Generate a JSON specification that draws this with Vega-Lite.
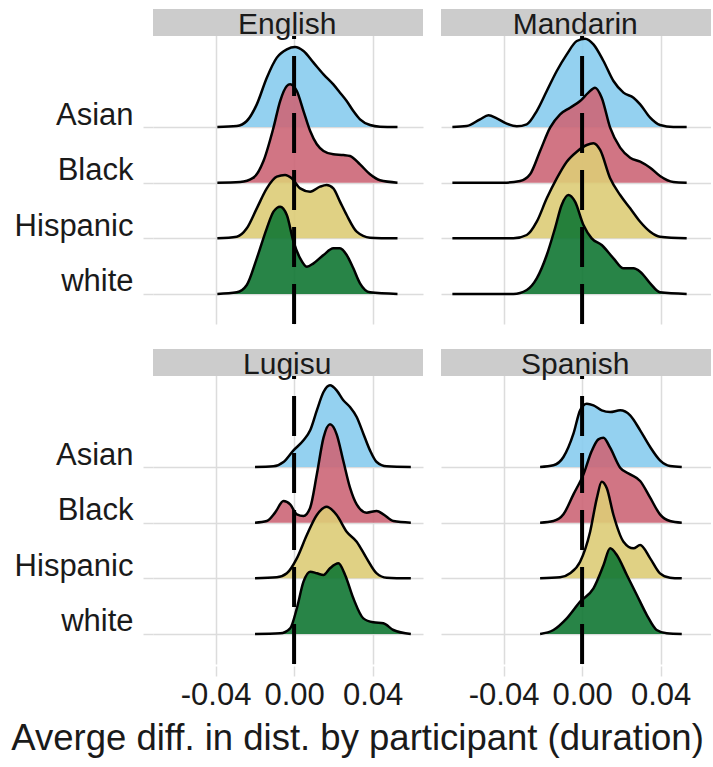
{
"$schema":"https://vega.github.io/schema/vega-lite/v6.json",
"padding":{"left":11,"top":8,"right":0,"bottom":0},
"autosize":{"type":"pad"},
"background":"white",
"title":{"text":"Averge diff. in dist. by participant (duration)","orient":"bottom","anchor":"middle","frame":"bounds","fontSize":36.5,"fontWeight":"normal","font":"Liberation Sans","color":"#1a1a1a","offset":11,"dx":-5},
"data":{"values":[
{"l":"English","r":"Asian","x":-0.0391,"d":0},{"l":"English","r":"Asian","x":-0.0292,"d":0.018},{"l":"English","r":"Asian","x":-0.0241,"d":0.108},{"l":"English","r":"Asian","x":-0.019,"d":0.407},{"l":"English","r":"Asian","x":-0.0139,"d":0.886},{"l":"English","r":"Asian","x":-0.0088,"d":1.246},{"l":"English","r":"Asian","x":-0.0037,"d":1.395},{"l":"English","r":"Asian","x":0.0005,"d":1.437},{"l":"English","r":"Asian","x":0.0048,"d":1.365},{"l":"English","r":"Asian","x":0.0099,"d":1.156},{"l":"English","r":"Asian","x":0.015,"d":0.946},{"l":"English","r":"Asian","x":0.02,"d":0.766},{"l":"English","r":"Asian","x":0.0234,"d":0.617},{"l":"English","r":"Asian","x":0.0268,"d":0.467},{"l":"English","r":"Asian","x":0.0302,"d":0.287},{"l":"English","r":"Asian","x":0.0336,"d":0.138},{"l":"English","r":"Asian","x":0.0387,"d":0.036},{"l":"English","r":"Asian","x":0.0438,"d":0.006},{"l":"English","r":"Asian","x":0.0527,"d":0},
{"l":"English","r":"Black","x":-0.0391,"d":0},{"l":"English","r":"Black","x":-0.0275,"d":0.012},{"l":"English","r":"Black","x":-0.0207,"d":0.09},{"l":"English","r":"Black","x":-0.0156,"d":0.389},{"l":"English","r":"Black","x":-0.0105,"d":0.988},{"l":"English","r":"Black","x":-0.0071,"d":1.467},{"l":"English","r":"Black","x":-0.0037,"d":1.737},{"l":"English","r":"Black","x":-0.002,"d":1.77},{"l":"English","r":"Black","x":0.0014,"d":1.647},{"l":"English","r":"Black","x":0.0048,"d":1.287},{"l":"English","r":"Black","x":0.0082,"d":0.928},{"l":"English","r":"Black","x":0.0116,"d":0.689},{"l":"English","r":"Black","x":0.015,"d":0.569},{"l":"English","r":"Black","x":0.02,"d":0.509},{"l":"English","r":"Black","x":0.0251,"d":0.497},{"l":"English","r":"Black","x":0.0285,"d":0.479},{"l":"English","r":"Black","x":0.0336,"d":0.329},{"l":"English","r":"Black","x":0.0387,"d":0.15},{"l":"English","r":"Black","x":0.0438,"d":0.042},{"l":"English","r":"Black","x":0.0527,"d":0},
{"l":"English","r":"Hispanic","x":-0.0391,"d":0},{"l":"English","r":"Hispanic","x":-0.0292,"d":0.03},{"l":"English","r":"Hispanic","x":-0.0241,"d":0.18},{"l":"English","r":"Hispanic","x":-0.019,"d":0.539},{"l":"English","r":"Hispanic","x":-0.0139,"d":0.898},{"l":"English","r":"Hispanic","x":-0.0088,"d":1.108},{"l":"English","r":"Hispanic","x":-0.0046,"d":1.138},{"l":"English","r":"Hispanic","x":-0.0012,"d":1.078},{"l":"English","r":"Hispanic","x":0.0031,"d":0.898},{"l":"English","r":"Hispanic","x":0.0082,"d":0.838},{"l":"English","r":"Hispanic","x":0.0132,"d":0.928},{"l":"English","r":"Hispanic","x":0.0166,"d":0.958},{"l":"English","r":"Hispanic","x":0.02,"d":0.898},{"l":"English","r":"Hispanic","x":0.0234,"d":0.659},{"l":"English","r":"Hispanic","x":0.0268,"d":0.419},{"l":"English","r":"Hispanic","x":0.0319,"d":0.12},{"l":"English","r":"Hispanic","x":0.0387,"d":0.012},{"l":"English","r":"Hispanic","x":0.0527,"d":0},
{"l":"English","r":"white","x":-0.0391,"d":0},{"l":"English","r":"white","x":-0.0292,"d":0.03},{"l":"English","r":"white","x":-0.0241,"d":0.162},{"l":"English","r":"white","x":-0.019,"d":0.641},{"l":"English","r":"white","x":-0.0139,"d":1.18},{"l":"English","r":"white","x":-0.0105,"d":1.479},{"l":"English","r":"white","x":-0.0071,"d":1.569},{"l":"English","r":"white","x":-0.0037,"d":1.419},{"l":"English","r":"white","x":-0.0003,"d":0.94},{"l":"English","r":"white","x":0.0031,"d":0.641},{"l":"English","r":"white","x":0.0065,"d":0.491},{"l":"English","r":"white","x":0.0099,"d":0.551},{"l":"English","r":"white","x":0.015,"d":0.701},{"l":"English","r":"white","x":0.02,"d":0.82},{"l":"English","r":"white","x":0.0234,"d":0.82},{"l":"English","r":"white","x":0.0268,"d":0.701},{"l":"English","r":"white","x":0.0302,"d":0.461},{"l":"English","r":"white","x":0.0336,"d":0.192},{"l":"English","r":"white","x":0.0387,"d":0.03},{"l":"English","r":"white","x":0.0527,"d":0},
{"l":"Mandarin","r":"Asian","x":-0.0661,"d":0},{"l":"Mandarin","r":"Asian","x":-0.0588,"d":0.018},{"l":"Mandarin","r":"Asian","x":-0.052,"d":0.138},{"l":"Mandarin","r":"Asian","x":-0.0477,"d":0.21},{"l":"Mandarin","r":"Asian","x":-0.0435,"d":0.156},{"l":"Mandarin","r":"Asian","x":-0.0384,"d":0.06},{"l":"Mandarin","r":"Asian","x":-0.0333,"d":0.012},{"l":"Mandarin","r":"Asian","x":-0.0282,"d":0.048},{"l":"Mandarin","r":"Asian","x":-0.0231,"d":0.287},{"l":"Mandarin","r":"Asian","x":-0.018,"d":0.647},{"l":"Mandarin","r":"Asian","x":-0.0129,"d":1.006},{"l":"Mandarin","r":"Asian","x":-0.0078,"d":1.305},{"l":"Mandarin","r":"Asian","x":-0.0027,"d":1.545},{"l":"Mandarin","r":"Asian","x":0.0015,"d":1.587},{"l":"Mandarin","r":"Asian","x":0.0058,"d":1.485},{"l":"Mandarin","r":"Asian","x":0.0109,"d":1.186},{"l":"Mandarin","r":"Asian","x":0.016,"d":0.826},{"l":"Mandarin","r":"Asian","x":0.0211,"d":0.617},{"l":"Mandarin","r":"Asian","x":0.0262,"d":0.527},{"l":"Mandarin","r":"Asian","x":0.0296,"d":0.407},{"l":"Mandarin","r":"Asian","x":0.0347,"d":0.168},{"l":"Mandarin","r":"Asian","x":0.0397,"d":0.036},{"l":"Mandarin","r":"Asian","x":0.0465,"d":0},{"l":"Mandarin","r":"Asian","x":0.0533,"d":0},
{"l":"Mandarin","r":"Black","x":-0.0661,"d":0},{"l":"Mandarin","r":"Black","x":-0.0401,"d":0},{"l":"Mandarin","r":"Black","x":-0.0316,"d":0.03},{"l":"Mandarin","r":"Black","x":-0.0265,"d":0.15},{"l":"Mandarin","r":"Black","x":-0.0214,"d":0.569},{"l":"Mandarin","r":"Black","x":-0.0163,"d":0.988},{"l":"Mandarin","r":"Black","x":-0.0112,"d":1.228},{"l":"Mandarin","r":"Black","x":-0.0061,"d":1.347},{"l":"Mandarin","r":"Black","x":-0.001,"d":1.467},{"l":"Mandarin","r":"Black","x":0.0032,"d":1.617},{"l":"Mandarin","r":"Black","x":0.0066,"d":1.707},{"l":"Mandarin","r":"Black","x":0.01,"d":1.527},{"l":"Mandarin","r":"Black","x":0.0143,"d":0.988},{"l":"Mandarin","r":"Black","x":0.0194,"d":0.629},{"l":"Mandarin","r":"Black","x":0.0245,"d":0.449},{"l":"Mandarin","r":"Black","x":0.0296,"d":0.377},{"l":"Mandarin","r":"Black","x":0.0347,"d":0.269},{"l":"Mandarin","r":"Black","x":0.0397,"d":0.12},{"l":"Mandarin","r":"Black","x":0.0465,"d":0.012},{"l":"Mandarin","r":"Black","x":0.0533,"d":0},
{"l":"Mandarin","r":"Hispanic","x":-0.0661,"d":0},{"l":"Mandarin","r":"Hispanic","x":-0.035,"d":0},{"l":"Mandarin","r":"Hispanic","x":-0.0282,"d":0.06},{"l":"Mandarin","r":"Hispanic","x":-0.0231,"d":0.299},{"l":"Mandarin","r":"Hispanic","x":-0.018,"d":0.719},{"l":"Mandarin","r":"Hispanic","x":-0.0129,"d":1.078},{"l":"Mandarin","r":"Hispanic","x":-0.0078,"d":1.377},{"l":"Mandarin","r":"Hispanic","x":-0.0027,"d":1.557},{"l":"Mandarin","r":"Hispanic","x":0.0024,"d":1.677},{"l":"Mandarin","r":"Hispanic","x":0.0058,"d":1.707},{"l":"Mandarin","r":"Hispanic","x":0.0092,"d":1.587},{"l":"Mandarin","r":"Hispanic","x":0.0143,"d":1.078},{"l":"Mandarin","r":"Hispanic","x":0.0194,"d":0.778},{"l":"Mandarin","r":"Hispanic","x":0.0245,"d":0.539},{"l":"Mandarin","r":"Hispanic","x":0.0296,"d":0.299},{"l":"Mandarin","r":"Hispanic","x":0.0347,"d":0.12},{"l":"Mandarin","r":"Hispanic","x":0.0397,"d":0.03},{"l":"Mandarin","r":"Hispanic","x":0.0533,"d":0},
{"l":"Mandarin","r":"white","x":-0.0661,"d":0},{"l":"Mandarin","r":"white","x":-0.035,"d":0},{"l":"Mandarin","r":"white","x":-0.0282,"d":0.072},{"l":"Mandarin","r":"white","x":-0.0231,"d":0.281},{"l":"Mandarin","r":"white","x":-0.018,"d":0.701},{"l":"Mandarin","r":"white","x":-0.0138,"d":1.18},{"l":"Mandarin","r":"white","x":-0.0104,"d":1.599},{"l":"Mandarin","r":"white","x":-0.007,"d":1.778},{"l":"Mandarin","r":"white","x":-0.0036,"d":1.659},{"l":"Mandarin","r":"white","x":0.0007,"d":1.24},{"l":"Mandarin","r":"white","x":0.0049,"d":1.0},{"l":"Mandarin","r":"white","x":0.01,"d":0.88},{"l":"Mandarin","r":"white","x":0.016,"d":0.641},{"l":"Mandarin","r":"white","x":0.0211,"d":0.461},{"l":"Mandarin","r":"white","x":0.0262,"d":0.461},{"l":"Mandarin","r":"white","x":0.0296,"d":0.401},{"l":"Mandarin","r":"white","x":0.0347,"d":0.192},{"l":"Mandarin","r":"white","x":0.0397,"d":0.03},{"l":"Mandarin","r":"white","x":0.0533,"d":0},
{"l":"Lugisu","r":"Asian","x":-0.0199,"d":0},{"l":"Lugisu","r":"Asian","x":-0.0105,"d":0.012},{"l":"Lugisu","r":"Asian","x":-0.0054,"d":0.09},{"l":"Lugisu","r":"Asian","x":-0.0003,"d":0.299},{"l":"Lugisu","r":"Asian","x":0.0048,"d":0.479},{"l":"Lugisu","r":"Asian","x":0.0082,"d":0.659},{"l":"Lugisu","r":"Asian","x":0.0116,"d":1.018},{"l":"Lugisu","r":"Asian","x":0.015,"d":1.347},{"l":"Lugisu","r":"Asian","x":0.0183,"d":1.467},{"l":"Lugisu","r":"Asian","x":0.0217,"d":1.377},{"l":"Lugisu","r":"Asian","x":0.0251,"d":1.198},{"l":"Lugisu","r":"Asian","x":0.0285,"d":1.078},{"l":"Lugisu","r":"Asian","x":0.0319,"d":0.898},{"l":"Lugisu","r":"Asian","x":0.0353,"d":0.599},{"l":"Lugisu","r":"Asian","x":0.0387,"d":0.299},{"l":"Lugisu","r":"Asian","x":0.0421,"d":0.09},{"l":"Lugisu","r":"Asian","x":0.0472,"d":0.012},{"l":"Lugisu","r":"Asian","x":0.0595,"d":0},
{"l":"Lugisu","r":"Black","x":-0.0199,"d":0},{"l":"Lugisu","r":"Black","x":-0.0139,"d":0.03},{"l":"Lugisu","r":"Black","x":-0.0097,"d":0.18},{"l":"Lugisu","r":"Black","x":-0.0054,"d":0.389},{"l":"Lugisu","r":"Black","x":-0.002,"d":0.329},{"l":"Lugisu","r":"Black","x":0.0014,"d":0.15},{"l":"Lugisu","r":"Black","x":0.0048,"d":0.12},{"l":"Lugisu","r":"Black","x":0.0082,"d":0.269},{"l":"Lugisu","r":"Black","x":0.0116,"d":0.868},{"l":"Lugisu","r":"Black","x":0.015,"d":1.527},{"l":"Lugisu","r":"Black","x":0.0183,"d":1.766},{"l":"Lugisu","r":"Black","x":0.0217,"d":1.587},{"l":"Lugisu","r":"Black","x":0.0251,"d":1.108},{"l":"Lugisu","r":"Black","x":0.0285,"d":0.629},{"l":"Lugisu","r":"Black","x":0.0319,"d":0.329},{"l":"Lugisu","r":"Black","x":0.037,"d":0.18},{"l":"Lugisu","r":"Black","x":0.0421,"d":0.21},{"l":"Lugisu","r":"Black","x":0.0455,"d":0.15},{"l":"Lugisu","r":"Black","x":0.0506,"d":0.03},{"l":"Lugisu","r":"Black","x":0.0595,"d":0},
{"l":"Lugisu","r":"Hispanic","x":-0.0199,"d":0},{"l":"Lugisu","r":"Hispanic","x":-0.0088,"d":0.018},{"l":"Lugisu","r":"Hispanic","x":-0.0037,"d":0.09},{"l":"Lugisu","r":"Hispanic","x":0.0014,"d":0.359},{"l":"Lugisu","r":"Hispanic","x":0.0065,"d":0.778},{"l":"Lugisu","r":"Hispanic","x":0.0116,"d":1.138},{"l":"Lugisu","r":"Hispanic","x":0.0166,"d":1.287},{"l":"Lugisu","r":"Hispanic","x":0.0217,"d":1.138},{"l":"Lugisu","r":"Hispanic","x":0.0268,"d":0.838},{"l":"Lugisu","r":"Hispanic","x":0.0319,"d":0.659},{"l":"Lugisu","r":"Hispanic","x":0.037,"d":0.359},{"l":"Lugisu","r":"Hispanic","x":0.0421,"d":0.09},{"l":"Lugisu","r":"Hispanic","x":0.0472,"d":0.012},{"l":"Lugisu","r":"Hispanic","x":0.0595,"d":0},
{"l":"Lugisu","r":"white","x":-0.0199,"d":0},{"l":"Lugisu","r":"white","x":-0.0071,"d":0.012},{"l":"Lugisu","r":"white","x":-0.002,"d":0.102},{"l":"Lugisu","r":"white","x":0.0014,"d":0.461},{"l":"Lugisu","r":"white","x":0.0048,"d":0.94},{"l":"Lugisu","r":"white","x":0.0082,"d":1.12},{"l":"Lugisu","r":"white","x":0.0116,"d":1.09},{"l":"Lugisu","r":"white","x":0.015,"d":1.06},{"l":"Lugisu","r":"white","x":0.0183,"d":1.18},{"l":"Lugisu","r":"white","x":0.0226,"d":1.269},{"l":"Lugisu","r":"white","x":0.026,"d":1.06},{"l":"Lugisu","r":"white","x":0.0302,"d":0.641},{"l":"Lugisu","r":"white","x":0.0353,"d":0.281},{"l":"Lugisu","r":"white","x":0.0404,"d":0.21},{"l":"Lugisu","r":"white","x":0.0455,"d":0.192},{"l":"Lugisu","r":"white","x":0.0506,"d":0.072},{"l":"Lugisu","r":"white","x":0.0595,"d":0},
{"l":"Spanish","r":"Asian","x":-0.0214,"d":0},{"l":"Spanish","r":"Asian","x":-0.0146,"d":0.03},{"l":"Spanish","r":"Asian","x":-0.0095,"d":0.18},{"l":"Spanish","r":"Asian","x":-0.0044,"d":0.599},{"l":"Spanish","r":"Asian","x":-0.001,"d":1.018},{"l":"Spanish","r":"Asian","x":0.0024,"d":1.138},{"l":"Spanish","r":"Asian","x":0.0058,"d":1.108},{"l":"Spanish","r":"Asian","x":0.01,"d":1.018},{"l":"Spanish","r":"Asian","x":0.0143,"d":0.988},{"l":"Spanish","r":"Asian","x":0.0194,"d":1.018},{"l":"Spanish","r":"Asian","x":0.0245,"d":0.928},{"l":"Spanish","r":"Asian","x":0.0296,"d":0.659},{"l":"Spanish","r":"Asian","x":0.0347,"d":0.359},{"l":"Spanish","r":"Asian","x":0.0397,"d":0.12},{"l":"Spanish","r":"Asian","x":0.0448,"d":0.018},{"l":"Spanish","r":"Asian","x":0.0508,"d":0},
{"l":"Spanish","r":"Black","x":-0.0214,"d":0},{"l":"Spanish","r":"Black","x":-0.0146,"d":0.03},{"l":"Spanish","r":"Black","x":-0.0095,"d":0.15},{"l":"Spanish","r":"Black","x":-0.0044,"d":0.509},{"l":"Spanish","r":"Black","x":0.0007,"d":0.868},{"l":"Spanish","r":"Black","x":0.0049,"d":1.287},{"l":"Spanish","r":"Black","x":0.0083,"d":1.497},{"l":"Spanish","r":"Black","x":0.0109,"d":1.527},{"l":"Spanish","r":"Black","x":0.0143,"d":1.347},{"l":"Spanish","r":"Black","x":0.0194,"d":0.988},{"l":"Spanish","r":"Black","x":0.0245,"d":0.868},{"l":"Spanish","r":"Black","x":0.0296,"d":0.749},{"l":"Spanish","r":"Black","x":0.0347,"d":0.449},{"l":"Spanish","r":"Black","x":0.0397,"d":0.15},{"l":"Spanish","r":"Black","x":0.0448,"d":0.03},{"l":"Spanish","r":"Black","x":0.0508,"d":0},
{"l":"Spanish","r":"Hispanic","x":-0.0214,"d":0},{"l":"Spanish","r":"Hispanic","x":-0.0112,"d":0.018},{"l":"Spanish","r":"Hispanic","x":-0.0061,"d":0.09},{"l":"Spanish","r":"Hispanic","x":-0.001,"d":0.299},{"l":"Spanish","r":"Hispanic","x":0.0041,"d":0.838},{"l":"Spanish","r":"Hispanic","x":0.0075,"d":1.437},{"l":"Spanish","r":"Hispanic","x":0.01,"d":1.737},{"l":"Spanish","r":"Hispanic","x":0.0126,"d":1.617},{"l":"Spanish","r":"Hispanic","x":0.016,"d":1.138},{"l":"Spanish","r":"Hispanic","x":0.0211,"d":0.659},{"l":"Spanish","r":"Hispanic","x":0.0262,"d":0.539},{"l":"Spanish","r":"Hispanic","x":0.0296,"d":0.599},{"l":"Spanish","r":"Hispanic","x":0.0347,"d":0.359},{"l":"Spanish","r":"Hispanic","x":0.0397,"d":0.09},{"l":"Spanish","r":"Hispanic","x":0.0448,"d":0.012},{"l":"Spanish","r":"Hispanic","x":0.0508,"d":0},
{"l":"Spanish","r":"white","x":-0.0214,"d":0},{"l":"Spanish","r":"white","x":-0.0146,"d":0.072},{"l":"Spanish","r":"white","x":-0.0078,"d":0.281},{"l":"Spanish","r":"white","x":-0.001,"d":0.581},{"l":"Spanish","r":"white","x":0.0058,"d":0.82},{"l":"Spanish","r":"white","x":0.0109,"d":1.234},{"l":"Spanish","r":"white","x":0.0143,"d":1.539},{"l":"Spanish","r":"white","x":0.0177,"d":1.419},{"l":"Spanish","r":"white","x":0.0228,"d":1.06},{"l":"Spanish","r":"white","x":0.0279,"d":0.701},{"l":"Spanish","r":"white","x":0.033,"d":0.341},{"l":"Spanish","r":"white","x":0.038,"d":0.072},{"l":"Spanish","r":"white","x":0.0431,"d":0.012},{"l":"Spanish","r":"white","x":0.0508,"d":0}
]},
"facet":{"field":"l","type":"nominal","sort":["English","Mandarin","Lugisu","Spanish"],"header":{"title":null,"labels":false,"labelExpr":"''","labelFontSize":1,"labelPadding":0,"labelColor":"transparent"}},
"columns":2,
"spacing":{"row":22,"column":18},
"spec":{
"width":270,"height":315,
"transform":[
{"calculate":"4 - indexof(['Asian','Black','Hispanic','white'], datum.r)","as":"base"},
{"calculate":"datum.base + datum.d","as":"top"}
],
"layer":[
{"transform":[{"aggregate":[{"op":"count","as":"n"}],"groupby":["l"]}],
 "mark":{"type":"rect","color":"#cccccc"},
 "encoding":{
  "x":{"datum":-0.0719,"type":"quantitative","scale":{"domain":[-0.0719,0.0657],"nice":false,"zero":false},"axis":{"values":[-0.04,0,0.04],"grid":true,"labelExpr":"datum.value < 0 ? '-' + format(-datum.value, '.2f') : format(datum.value, '.2f')","title":null}},
  "x2":{"datum":0.0657},
  "y":{"datum":5.635,"type":"quantitative","scale":{"domain":[0.461,6.12],"nice":false,"zero":false},"axis":{"values":[1,2,3,4],"grid":true,"labelExpr":"datum.value == 4 ? 'Asian' : datum.value == 3 ? 'Black' : datum.value == 2 ? 'Hispanic' : 'white'","title":null,"labelBaseline":"alphabetic","labelOffset":-3,"labelPadding":10}},
  "y2":{"datum":6.12}
 }},
{"transform":[{"aggregate":[{"op":"count","as":"n"}],"groupby":["l"]}],
 "mark":{"type":"text","align":"center","baseline":"alphabetic","fontSize":30,"font":"Liberation Sans","color":"#1a1a1a"},
 "encoding":{
  "x":{"datum":-0.0035,"type":"quantitative"},
  "y":{"datum":5.671,"type":"quantitative"},
  "text":{"field":"l","type":"nominal"}
 }},
{"transform":[{"filter":"datum.r === 'Asian'"}],"mark":{"type":"area","interpolate":"monotone","color":"#88CCEE","opacity":0.9},
 "encoding":{"x":{"field":"x","type":"quantitative"},"y":{"field":"top","type":"quantitative"},"y2":{"field":"base"}}},
{"transform":[{"filter":"datum.r === 'Asian'"}],"mark":{"type":"line","interpolate":"monotone","color":"black","strokeWidth":2.5},
 "encoding":{"x":{"field":"x","type":"quantitative"},"y":{"field":"top","type":"quantitative"}}},
{"transform":[{"filter":"datum.r === 'Black'"}],"mark":{"type":"area","interpolate":"monotone","color":"#CC6677","opacity":0.9},
 "encoding":{"x":{"field":"x","type":"quantitative"},"y":{"field":"top","type":"quantitative"},"y2":{"field":"base"}}},
{"transform":[{"filter":"datum.r === 'Black'"}],"mark":{"type":"line","interpolate":"monotone","color":"black","strokeWidth":2.5},
 "encoding":{"x":{"field":"x","type":"quantitative"},"y":{"field":"top","type":"quantitative"}}},
{"transform":[{"filter":"datum.r === 'Hispanic'"}],"mark":{"type":"area","interpolate":"monotone","color":"#DDCC77","opacity":0.9},
 "encoding":{"x":{"field":"x","type":"quantitative"},"y":{"field":"top","type":"quantitative"},"y2":{"field":"base"}}},
{"transform":[{"filter":"datum.r === 'Hispanic'"}],"mark":{"type":"line","interpolate":"monotone","color":"black","strokeWidth":2.5},
 "encoding":{"x":{"field":"x","type":"quantitative"},"y":{"field":"top","type":"quantitative"}}},
{"transform":[{"filter":"datum.r === 'white'"}],"mark":{"type":"area","interpolate":"monotone","color":"#117733","opacity":0.9},
 "encoding":{"x":{"field":"x","type":"quantitative"},"y":{"field":"top","type":"quantitative"},"y2":{"field":"base"}}},
{"transform":[{"filter":"datum.r === 'white'"}],"mark":{"type":"line","interpolate":"monotone","color":"black","strokeWidth":2.5},
 "encoding":{"x":{"field":"x","type":"quantitative"},"y":{"field":"top","type":"quantitative"}}},
{"transform":[{"aggregate":[{"op":"count","as":"n"}],"groupby":["l"]}],
 "mark":{"type":"rule","color":"black","strokeWidth":4,"strokeDash":[40,17]},
 "encoding":{
  "x":{"datum":0,"type":"quantitative"},
  "y":{"datum":0.461,"type":"quantitative"},
  "y2":{"datum":5.635}
 }}
]
},
"config":{
 "view":{"stroke":null},
 "font":"Liberation Sans",
 "header":{"labels":false,"title":null,"labelPadding":0,"labelFontSize":1},
 "axis":{"domain":false,"grid":true,"gridColor":"#dcdcdc","gridWidth":1.5,"tickColor":"#dcdcdc","tickWidth":1.5,"tickSize":10,"labelFontSize":31,"labelColor":"#1a1a1a","labelFont":"Liberation Sans","labelPadding":4}
}
}
